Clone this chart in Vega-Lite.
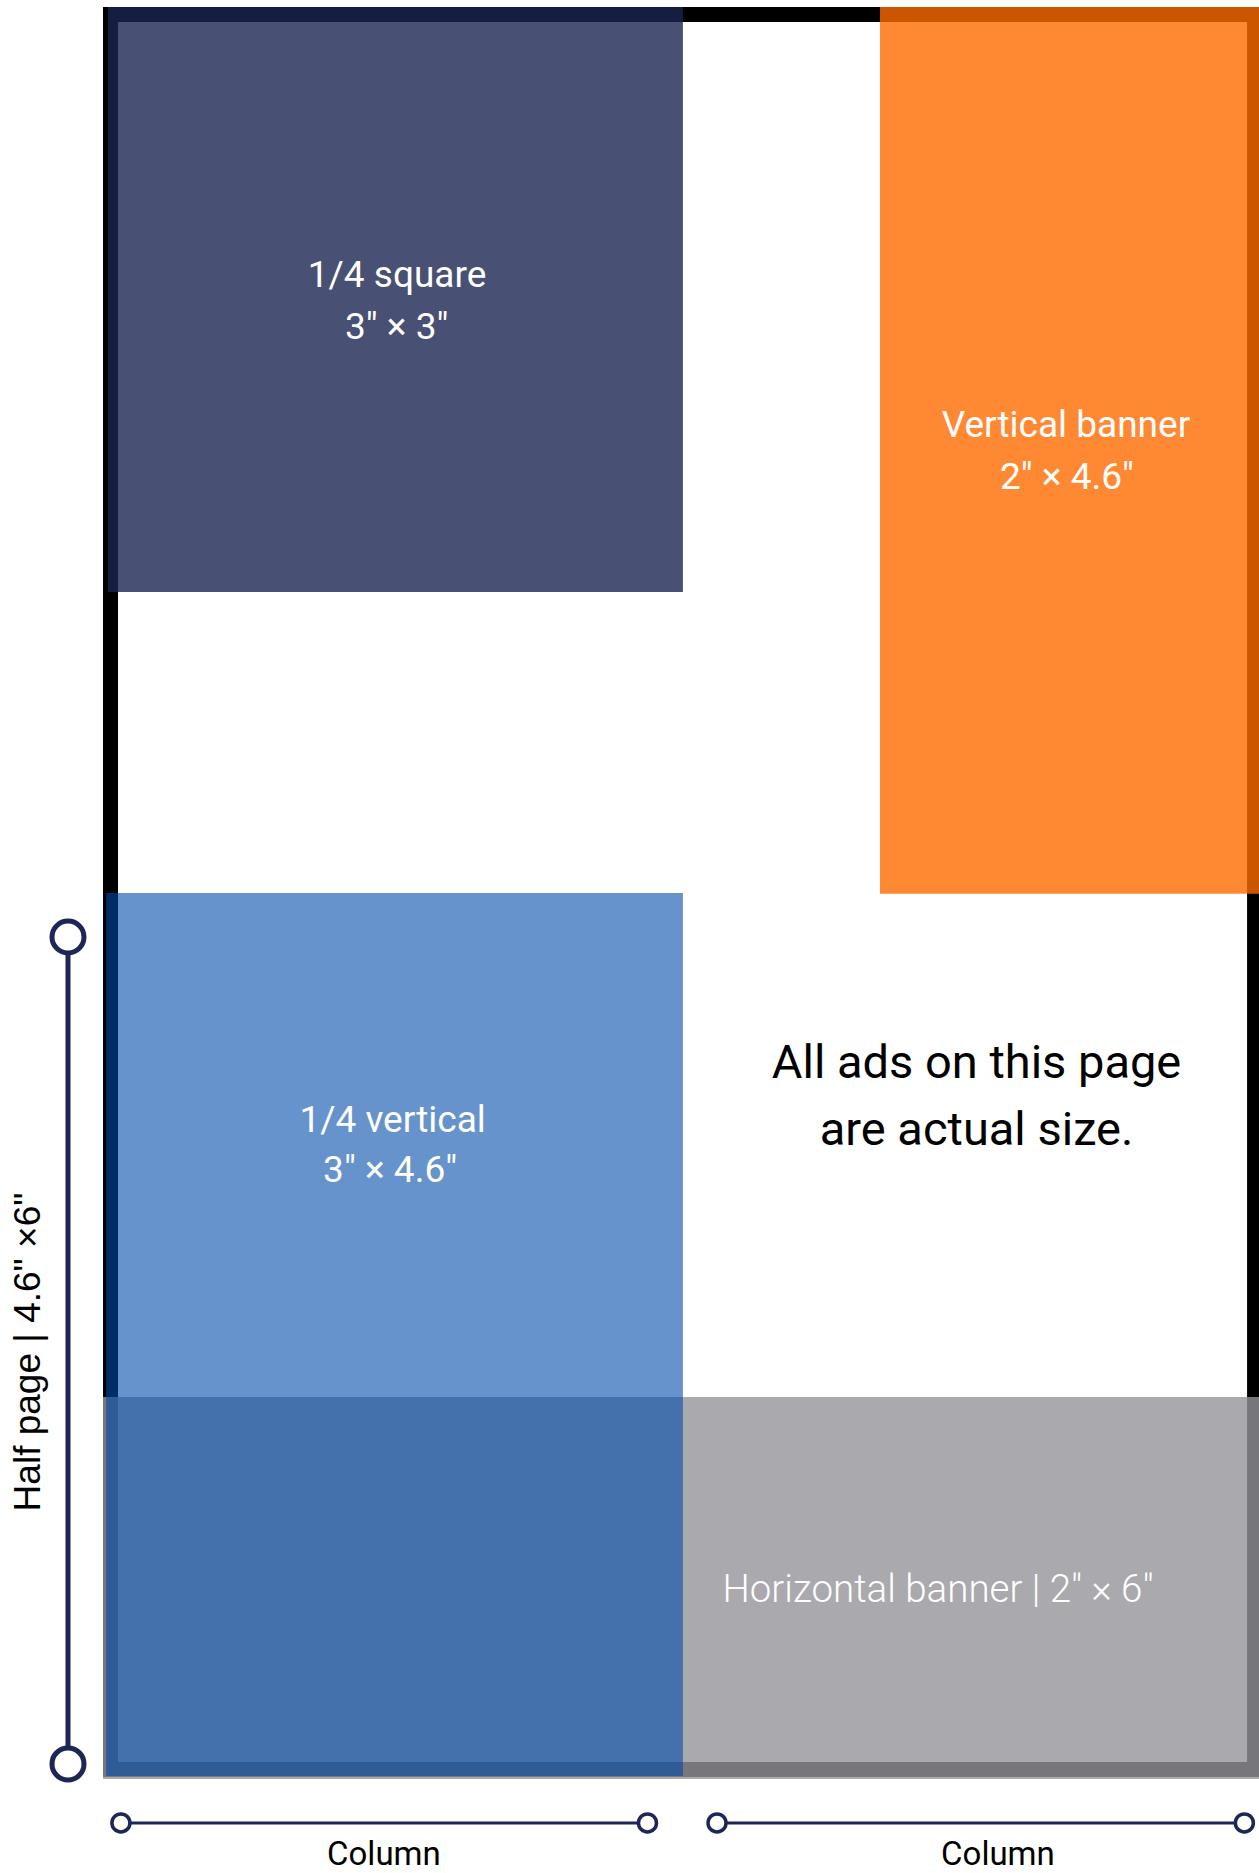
{
  "$schema": "https://vega.github.io/schema/vega-lite/v6.json",
  "width": 1259,
  "height": 1873,
  "autosize": {"type": "none"},
  "padding": 0,
  "background": "white",
  "config": {"view": {"stroke": null}},
  "datasets": {
    "page": [{"x0": 0.039, "x1": 5.977, "y0": 0.039, "y1": 9.148}],
    "ads": [
      {"ad": "1/4 square", "x0": 0.026, "x1": 3.01, "y0": 0, "y1": 3.036},
      {"ad": "Vertical banner", "x0": 4.033, "x1": 6.0, "y0": 0, "y1": 4.602},
      {"ad": "Horizontal banner", "x0": 0, "x1": 6.0, "y0": 7.214, "y1": 9.197},
      {"ad": "1/4 vertical", "x0": 0.016, "x1": 3.01, "y0": 4.599, "y1": 9.182}
    ],
    "white_labels": [
      {"t": "1/4 square", "x": 1.526, "y": 1.453},
      {"t": "3\" × 3\"", "x": 1.524, "y": 1.723},
      {"t": "Vertical banner", "x": 4.998, "y": 2.23},
      {"t": "2\" × 4.6\"", "x": 5.003, "y": 2.502},
      {"t": "1/4 vertical", "x": 1.503, "y": 5.839},
      {"t": "3\" × 4.6\"", "x": 1.49, "y": 6.099}
    ],
    "note": [
      {"t": "All ads on this page", "x": 4.534, "y": 5.559},
      {"t": "are actual size.", "x": 4.534, "y": 5.907}
    ],
    "hbanner": [{"t": "Horizontal banner | 2\" × 6\"", "x": 4.334, "y": 8.279}],
    "halfpage": [{"t": "Half page | 4.6\" ×6\"", "x": -0.327, "y": 6.981}],
    "columns": [
      {"t": "Column", "x": 1.458, "y": 9.643},
      {"t": "Column", "x": 4.645, "y": 9.643}
    ],
    "half_rule": [{"x0": -0.1817, "x1": -0.1817, "y0": 4.827, "y1": 9.119}],
    "half_ends": [{"x": -0.1817, "y": 4.827}, {"x": -0.1817, "y": 9.119}],
    "col_rules": [
      {"x0": 0.093, "x1": 2.826, "y0": 9.425, "y1": 9.425},
      {"x0": 3.187, "x1": 5.924, "y0": 9.425, "y1": 9.425}
    ],
    "col_ends": [
      {"x": 0.093, "y": 9.425}, {"x": 2.826, "y": 9.425},
      {"x": 3.187, "y": 9.425}, {"x": 5.924, "y": 9.425}
    ]
  },
  "layer": [
    {
      "data": {"name": "page"},
      "mark": {"type": "rect", "fill": null, "fillOpacity": 0, "stroke": "#000000", "strokeWidth": 15},
      "encoding": {
        "x": {"field": "x0", "type": "quantitative", "scale": {"domain": [-0.5346, 6.0], "nice": false, "zero": false}, "axis": null},
        "x2": {"field": "x1"},
        "y": {"field": "y0", "type": "quantitative", "scale": {"domain": [-0.0363, 9.685], "nice": false, "zero": false, "reverse": true}, "axis": null},
        "y2": {"field": "y1"}
      }
    },
    {
      "data": {"name": "ads"},
      "transform": [{"filter": "datum.ad !== '1/4 vertical'"}],
      "mark": {"type": "rect", "strokeWidth": 0, "opacity": 0.8},
      "encoding": {
        "x": {"field": "x0", "type": "quantitative", "scale": {"domain": [-0.5346, 6.0], "nice": false, "zero": false}, "axis": null},
        "x2": {"field": "x1"},
        "y": {"field": "y0", "type": "quantitative", "scale": {"domain": [-0.0363, 9.685], "nice": false, "zero": false, "reverse": true}, "axis": null},
        "y2": {"field": "y1"},
        "fill": {"field": "ad", "type": "nominal", "legend": null, "scale": {"domain": ["1/4 square", "Vertical banner", "Horizontal banner", "1/4 vertical"], "range": ["#1A2450", "#FF6A00", "#95949A", "#004BAA"]}}
      }
    },
    {
      "data": {"name": "ads"},
      "transform": [{"filter": "datum.ad === '1/4 vertical'"}],
      "mark": {"type": "rect", "strokeWidth": 0, "opacity": 0.6},
      "encoding": {
        "x": {"field": "x0", "type": "quantitative", "scale": {"domain": [-0.5346, 6.0], "nice": false, "zero": false}, "axis": null},
        "x2": {"field": "x1"},
        "y": {"field": "y0", "type": "quantitative", "scale": {"domain": [-0.0363, 9.685], "nice": false, "zero": false, "reverse": true}, "axis": null},
        "y2": {"field": "y1"},
        "fill": {"field": "ad", "type": "nominal", "legend": null, "scale": {"domain": ["1/4 square", "Vertical banner", "Horizontal banner", "1/4 vertical"], "range": ["#1A2450", "#FF6A00", "#95949A", "#004BAA"]}}
      }
    },
    {
      "data": {"name": "white_labels"},
      "mark": {"type": "text", "font": "Roboto", "fontSize": 37, "color": "#ffffff", "align": "center", "baseline": "alphabetic"},
      "encoding": {
        "x": {"field": "x", "type": "quantitative", "scale": {"domain": [-0.5346, 6.0], "nice": false, "zero": false}, "axis": null},
        "y": {"field": "y", "type": "quantitative", "scale": {"domain": [-0.0363, 9.685], "nice": false, "zero": false, "reverse": true}, "axis": null},
        "text": {"field": "t", "type": "nominal"}
      }
    },
    {
      "data": {"name": "note"},
      "mark": {"type": "text", "font": "Roboto", "fontSize": 47, "color": "#000000", "align": "center", "baseline": "alphabetic"},
      "encoding": {
        "x": {"field": "x", "type": "quantitative", "scale": {"domain": [-0.5346, 6.0], "nice": false, "zero": false}, "axis": null},
        "y": {"field": "y", "type": "quantitative", "scale": {"domain": [-0.0363, 9.685], "nice": false, "zero": false, "reverse": true}, "axis": null},
        "text": {"field": "t", "type": "nominal"}
      }
    },
    {
      "data": {"name": "hbanner"},
      "mark": {"type": "text", "font": "Roboto", "fontSize": 38.5, "fontWeight": 300, "color": "#ffffff", "align": "center", "baseline": "alphabetic"},
      "encoding": {
        "x": {"field": "x", "type": "quantitative", "scale": {"domain": [-0.5346, 6.0], "nice": false, "zero": false}, "axis": null},
        "y": {"field": "y", "type": "quantitative", "scale": {"domain": [-0.0363, 9.685], "nice": false, "zero": false, "reverse": true}, "axis": null},
        "text": {"field": "t", "type": "nominal"}
      }
    },
    {
      "data": {"name": "halfpage"},
      "mark": {"type": "text", "font": "Liberation Sans", "fontSize": 37, "color": "#000000", "align": "center", "baseline": "alphabetic", "angle": 270},
      "encoding": {
        "x": {"field": "x", "type": "quantitative", "scale": {"domain": [-0.5346, 6.0], "nice": false, "zero": false}, "axis": null},
        "y": {"field": "y", "type": "quantitative", "scale": {"domain": [-0.0363, 9.685], "nice": false, "zero": false, "reverse": true}, "axis": null},
        "text": {"field": "t", "type": "nominal"}
      }
    },
    {
      "data": {"name": "columns"},
      "mark": {"type": "text", "font": "Roboto", "fontSize": 33, "color": "#000000", "align": "center", "baseline": "alphabetic"},
      "encoding": {
        "x": {"field": "x", "type": "quantitative", "scale": {"domain": [-0.5346, 6.0], "nice": false, "zero": false}, "axis": null},
        "y": {"field": "y", "type": "quantitative", "scale": {"domain": [-0.0363, 9.685], "nice": false, "zero": false, "reverse": true}, "axis": null},
        "text": {"field": "t", "type": "nominal"}
      }
    },
    {
      "data": {"name": "half_rule"},
      "mark": {"type": "rule", "color": "#1D2654", "strokeWidth": 5},
      "encoding": {
        "x": {"field": "x0", "type": "quantitative", "scale": {"domain": [-0.5346, 6.0], "nice": false, "zero": false}, "axis": null},
        "x2": {"field": "x1"},
        "y": {"field": "y0", "type": "quantitative", "scale": {"domain": [-0.0363, 9.685], "nice": false, "zero": false, "reverse": true}, "axis": null},
        "y2": {"field": "y1"}
      }
    },
    {
      "data": {"name": "col_rules"},
      "mark": {"type": "rule", "color": "#1D2654", "strokeWidth": 3},
      "encoding": {
        "x": {"field": "x0", "type": "quantitative", "scale": {"domain": [-0.5346, 6.0], "nice": false, "zero": false}, "axis": null},
        "x2": {"field": "x1"},
        "y": {"field": "y0", "type": "quantitative", "scale": {"domain": [-0.0363, 9.685], "nice": false, "zero": false, "reverse": true}, "axis": null},
        "y2": {"field": "y1"}
      }
    },
    {
      "data": {"name": "half_ends"},
      "mark": {"type": "point", "shape": "circle", "size": 1024, "filled": true, "fill": "#ffffff", "stroke": "#1D2654", "strokeWidth": 5, "opacity": 1},
      "encoding": {
        "x": {"field": "x", "type": "quantitative", "scale": {"domain": [-0.5346, 6.0], "nice": false, "zero": false}, "axis": null},
        "y": {"field": "y", "type": "quantitative", "scale": {"domain": [-0.0363, 9.685], "nice": false, "zero": false, "reverse": true}, "axis": null}
      }
    },
    {
      "data": {"name": "col_ends"},
      "mark": {"type": "point", "shape": "circle", "size": 324, "filled": true, "fill": "#ffffff", "stroke": "#1D2654", "strokeWidth": 3.5, "opacity": 1},
      "encoding": {
        "x": {"field": "x", "type": "quantitative", "scale": {"domain": [-0.5346, 6.0], "nice": false, "zero": false}, "axis": null},
        "y": {"field": "y", "type": "quantitative", "scale": {"domain": [-0.0363, 9.685], "nice": false, "zero": false, "reverse": true}, "axis": null}
      }
    }
  ]
}
